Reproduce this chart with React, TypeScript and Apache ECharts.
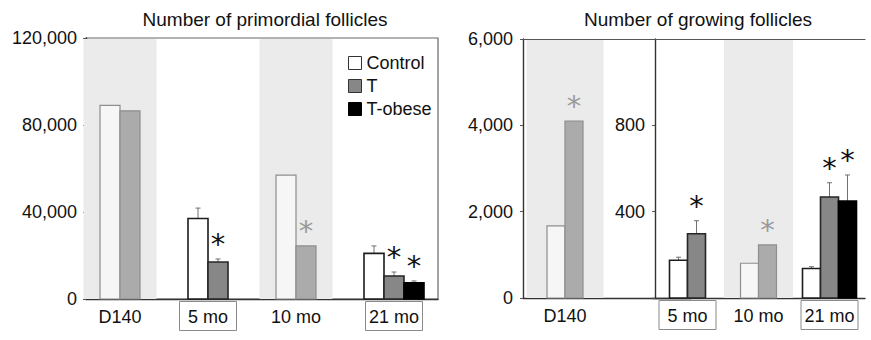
import React, { useEffect, useRef } from 'react';
import * as echarts from 'echarts';

// ---------- data ----------
const seriesNames = ['Control', 'T', 'T-obese'];
const boxedLabels = ['5 mo', '21 mo'];

// Left panel: number of primordial follicles
const primCategories = ['D140', '5 mo', '10 mo', '21 mo'];
const primControl = [89000, 37000, 57000, 21000];
const primControlErr = [0, 4800, 0, 3400];
const primT = [86500, 17000, 24400, 10600];
const primTErr = [0, 1400, 0, 1800];
const primTObese = [null, null, null, 7400];
const primTObeseErr = [null, null, null, 900];
const primControlSig = [false, false, false, false];
const primTSig = [false, true, true, true];
const primTObeseSig = [false, false, false, true];
const primFaded = [true, false, true, false];
const primTicks = [0, 40000, 80000, 120000];

// Right panel, D140 part (own scale)
const growD140Categories = ['D140', ''];
const growD140Control = [1670, null];
const growD140ControlErr = [0, null];
const growD140T = [4100, null];
const growD140TErr = [0, null];
const growD140TObese = [null, null];
const growD140TObeseErr = [null, null];
const growD140ControlSig = [false, false];
const growD140TSig = [true, false];
const growD140TObeseSig = [false, false];
const growD140Faded = [true, false];
const growD140Ticks = [0, 2000, 4000, 6000];

// Right panel, months part (own scale)
const growCategories = ['5 mo', '10 mo', '21 mo'];
const growControl = [175, 161, 137];
const growControlErr = [14, 0, 8];
const growT = [298, 246, 468];
const growTErr = [60, 0, 66];
const growTObese = [null, null, 449];
const growTObeseErr = [null, null, 121];
const growControlSig = [false, false, false];
const growTSig = [true, true, true];
const growTObeseSig = [false, false, true];
const growFaded = [false, true, false];
const growTicks = [0, 400, 800, 1200];

// ---------- styles ----------
const FONT = '"Liberation Sans", Arial, Helvetica, sans-serif';
const strongStyle = [
  { fill: '#ffffff', stroke: '#1c1c1c' },
  { fill: '#878787', stroke: '#262626' },
  { fill: '#000000', stroke: '#000000' },
];
const fadedStyle = [
  { fill: '#f6f6f6', stroke: '#8e8e8e' },
  { fill: '#ababab', stroke: '#8e8e8e' },
  { fill: '#555555', stroke: '#555555' },
];

const fmt = (v: number) => String(v).replace(/\B(?=(\d{3})+(?!\d))/g, ',');

type Panel = {
  xAxisIndex: number;
  yAxisIndex: number;
  values: (number | null)[][];
  errs: (number | null)[][];
  sigs: boolean[][];
  faded: boolean[];
  align: 'left' | 'center';
  barW: number;
  bandW: number;
  yMax: number;
};

function panelSeries(p: Panel): any[] {
  const nCat = p.values[0].length;
  const counts = Array.from({ length: nCat }, (_, i) => p.values.filter((v) => v[i] != null).length);
  const slotsOf = (i: number) => (p.align === 'left' ? p.values.length : counts[i]);
  const groupLeft = (center: number, i: number) => center - (slotsOf(i) * p.barW) / 2;
  const out: any[] = [];

  out.push({
    type: 'custom',
    xAxisIndex: p.xAxisIndex,
    yAxisIndex: p.yAxisIndex,
    silent: true,
    z: 1,
    encode: { x: 0, y: 1 },
    data: p.faded
      .map((f, i) => (f && counts[i] > 0 ? [i, p.yMax] : null))
      .filter((d) => d !== null),
    renderItem: (_params: any, api: any) => {
      const i = api.value(0);
      const base = api.coord([i, 0]);
      const top = api.coord([i, p.yMax]);
      const c = groupLeft(base[0], i) + (counts[i] * p.barW) / 2;
      return {
        type: 'rect',
        shape: { x: c - p.bandW / 2, y: top[1] + 1, width: p.bandW, height: base[1] - top[1] - 1 },
        style: { fill: '#ebebeb' },
      };
    },
  });

  p.values.forEach((vals, s) => {
    out.push({
      type: 'custom',
      name: seriesNames[s],
      xAxisIndex: p.xAxisIndex,
      yAxisIndex: p.yAxisIndex,
      z: 2,
      encode: { x: 0, y: 1 },
      data: vals
        .map((v, i) => (v == null ? null : [i, v, p.errs[s][i] ?? 0, p.sigs[s][i] ? 1 : 0]))
        .filter((d) => d !== null),
      renderItem: (_params: any, api: any) => {
        const i = api.value(0);
        const v = api.value(1);
        const e = api.value(2);
        const sig = api.value(3);
        const base = api.coord([i, 0]);
        const top = api.coord([i, v]);
        const x = groupLeft(base[0], i) + s * p.barW;
        const cx = x + p.barW / 2;
        const isFaded = p.faded[i];
        const st = isFaded ? fadedStyle[s] : strongStyle[s];
        const children: any[] = [];
        let tipY = top[1];
        if (e > 0) {
          const et = api.coord([i, v + e])[1];
          children.push({
            type: 'line',
            shape: { x1: cx, y1: top[1], x2: cx, y2: et },
            style: { stroke: '#707070', lineWidth: 1 },
          });
          children.push({
            type: 'line',
            shape: { x1: cx - 2.5, y1: et, x2: cx + 2.5, y2: et },
            style: { stroke: '#707070', lineWidth: 1 },
          });
          tipY = et;
        }
        children.push({
          type: 'rect',
          shape: { x, y: top[1], width: p.barW, height: base[1] - top[1] },
          style: { fill: st.fill, stroke: st.stroke, lineWidth: isFaded ? 1.2 : 1.6 },
        });
        if (sig) {
          children.push({
            type: 'text',
            x: cx,
            y: tipY - 15,
            style: {
              text: '*',
              fill: isFaded ? '#9a9a9a' : '#111111',
              fontSize: 29,
              fontFamily: '"DejaVu Sans", sans-serif',
              align: 'center',
              verticalAlign: 'middle',
            },
          });
        }
        return { type: 'group', children };
      },
    });
  });
  return out;
}

function catAxis(gridIndex: number, data: string[], shift: boolean[]) {
  return {
    type: 'category',
    gridIndex,
    data,
    axisLine: { show: true, lineStyle: { color: '#333', width: 1.4 } },
    axisTick: { show: false },
    axisLabel: {
      interval: 0,
      margin: 7,
      color: '#111',
      fontSize: 18,
      fontFamily: FONT,
      formatter: (value: string, index: number) => {
        if (!value) return '';
        const key = boxedLabels.includes(value) ? 'box' : 'plain';
        return `{${key}|${value}}` + (shift[index] ? '{sp| }' : '');
      },
      rich: {
        box: {
          borderColor: '#8a8a8a',
          borderWidth: 1,
          padding: [6, 3, 5, 3],
          width: 51,
          align: 'center',
          fontSize: 18,
          lineHeight: 20,
          fontFamily: FONT,
          color: '#111',
        },
        plain: {
          padding: [6, 3, 5, 3],
          fontSize: 18,
          lineHeight: 20,
          fontFamily: FONT,
          color: '#111',
        },
        sp: { width: 20, fontSize: 18, lineHeight: 20 },
      },
    },
  };
}

function topAxis(gridIndex: number, data: string[]) {
  return {
    type: 'category',
    gridIndex,
    position: 'top',
    data,
    axisLine: { show: true, lineStyle: { color: '#555', width: 1.2 } },
    axisTick: { show: false },
    axisLabel: { show: false },
  };
}

function valAxis(gridIndex: number, ticks: number[], hideEnds: boolean, margin: number, offset = 0) {
  return {
    type: 'value',
    gridIndex,
    min: ticks[0],
    max: ticks[ticks.length - 1],
    interval: ticks[1] - ticks[0],
    offset,
    axisLine: { show: true, lineStyle: { color: '#333', width: 1.4 } },
    axisTick: { show: true, length: 3, lineStyle: { color: '#555' } },
    splitLine: { show: false },
    axisLabel: {
      margin,
      color: '#111',
      fontSize: 18,
      fontFamily: FONT,
      formatter: (v: number) =>
        hideEnds && (v === ticks[0] || v === ticks[ticks.length - 1]) ? '' : fmt(v),
    },
  };
}

const primShift = primTObese.map((v) => v == null);
const noShift = (arr: string[]) => arr.map(() => false);

const option: any = {
  animation: false,
  backgroundColor: '#ffffff',
  graphic: [
    {
      type: 'text',
      x: 265,
      y: 19,
      style: {
        text: 'Number of primordial follicles',
        fill: '#111',
        fontSize: 19,
        fontFamily: FONT,
        align: 'center',
        verticalAlign: 'middle',
      },
    },
    {
      type: 'text',
      x: 698,
      y: 19,
      style: {
        text: 'Number of growing follicles',
        fill: '#111',
        fontSize: 19,
        fontFamily: FONT,
        align: 'center',
        verticalAlign: 'middle',
      },
    },
  ],
  legend: {
    left: 343,
    top: 49,
    orient: 'vertical',
    itemWidth: 13,
    itemHeight: 13,
    itemGap: 5,
    icon: 'rect',
    selectedMode: false,
    textStyle: { fontSize: 18, fontFamily: FONT, color: '#111' },
    data: seriesNames.map((n, s) => ({
      name: n,
      itemStyle: { color: strongStyle[s].fill, borderColor: s === 2 ? '#000' : '#333', borderWidth: 1 },
    })),
  },
  grid: [
    { left: 86, top: 38, width: 352, height: 261, show: true, borderColor: '#666', borderWidth: 1.2 },
    { left: 523, top: 39, width: 168, height: 259 },
    { left: 652, top: 39, width: 213, height: 259 },
  ],
  xAxis: [
    catAxis(0, primCategories, primShift),
    catAxis(1, growD140Categories, noShift(growD140Categories)),
    catAxis(2, growCategories, noShift(growCategories)),
    topAxis(1, growD140Categories),
    topAxis(2, growCategories),
  ],
  yAxis: [
    valAxis(0, primTicks, false, 9),
    valAxis(1, growD140Ticks, false, 10),
    valAxis(2, growTicks, true, 10, -3),
  ],
  series: [
    ...panelSeries({
      xAxisIndex: 0,
      yAxisIndex: 0,
      values: [primControl, primT, primTObese],
      errs: [primControlErr, primTErr, primTObeseErr],
      sigs: [primControlSig, primTSig, primTObeseSig],
      faded: primFaded,
      align: 'left',
      barW: 20,
      bandW: 73,
      yMax: primTicks[primTicks.length - 1],
    }),
    ...panelSeries({
      xAxisIndex: 1,
      yAxisIndex: 1,
      values: [growD140Control, growD140T, growD140TObese],
      errs: [growD140ControlErr, growD140TErr, growD140TObeseErr],
      sigs: [growD140ControlSig, growD140TSig, growD140TObeseSig],
      faded: growD140Faded,
      align: 'center',
      barW: 18,
      bandW: 77,
      yMax: growD140Ticks[growD140Ticks.length - 1],
    }),
    ...panelSeries({
      xAxisIndex: 2,
      yAxisIndex: 2,
      values: [growControl, growT, growTObese],
      errs: [growControlErr, growTErr, growTObeseErr],
      sigs: [growControlSig, growTSig, growTObeseSig],
      faded: growFaded,
      align: 'center',
      barW: 18,
      bandW: 69,
      yMax: growTicks[growTicks.length - 1],
    }),
  ],
};

export default function App() {
  const ref = useRef<HTMLDivElement>(null);
  useEffect(() => {
    document.body.style.margin = '0';
    const chart = echarts.init(ref.current as HTMLDivElement, undefined, { renderer: 'svg' });
    chart.setOption(option);
    return () => chart.dispose();
  }, []);
  return (
    <div
      ref={ref}
      style={{ width: 871, height: 340, position: 'absolute', left: 0, top: 0, background: '#fff' }}
    />
  );
}
